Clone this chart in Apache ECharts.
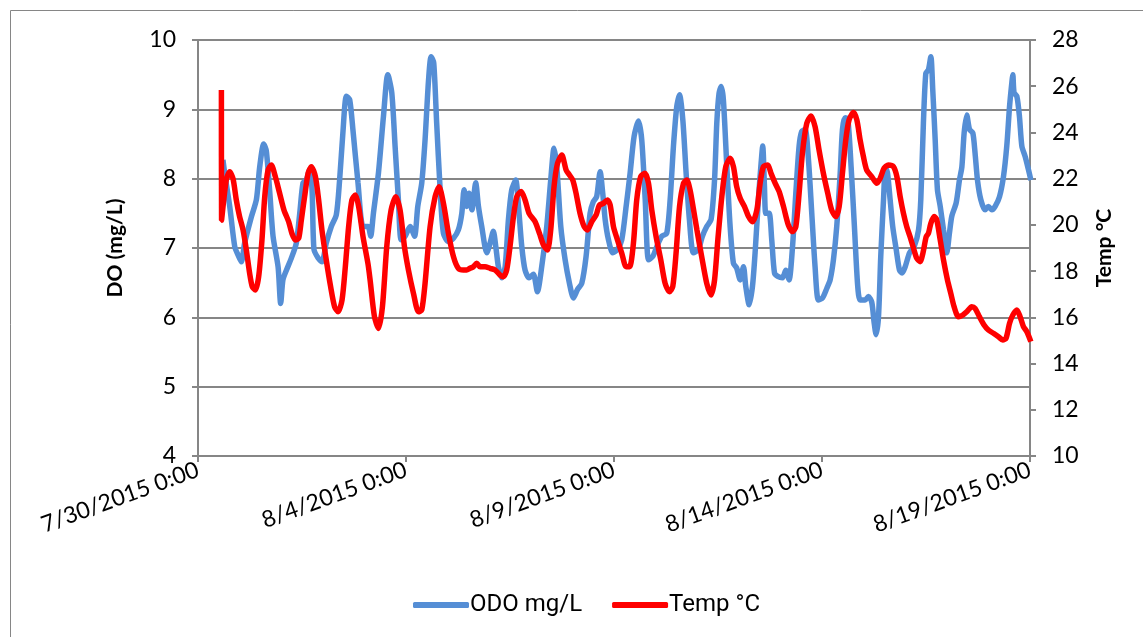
<!DOCTYPE html>
<html>
<head>
<meta charset="utf-8">
<title>DO and Temperature</title>
<script src="https://cdn.jsdelivr.net/npm/echarts@6/dist/echarts.min.js"></script>
<style>
  html, body { margin: 0; padding: 0; background: #fff; }
  #chart { width: 1143px; height: 637px; }
</style>
</head>
<body>
<div id="chart"></div>
<script>
// hours since 7/30/2015 0:00
const doHours = [14.4, 15.4, 18.3, 21.2, 23.1, 25, 26.9, 30.8, 33.7, 35.6, 37.9, 39.4, 41.3, 43.3, 46.2, 47.7, 49, 51, 53.8, 56.7, 58.7, 60.6, 62.5, 64.4, 65.8, 66.9, 69.2, 71.5, 74, 76.9, 79.8, 81.7, 83.7, 85.6, 87.5, 89.4, 92.3, 95.2, 98.1, 99.6,
  101.2, 104.1, 107, 109.5, 111.8, 113.7, 115.6, 117.2, 119.5, 122.4, 124.9, 126.8, 129.1, 131, 133, 134.5, 136, 137.7, 139.7, 141.6, 144.5, 147.4, 150.2, 152.2, 153.5, 155, 156.4, 158, 160.2, 161.8, 163.7, 166.6, 168.5, 170.4, 171.8, 173.3, 175.2, 177.2, 179.1, 181, 183.3, 184.9, 186.8, 188.7, 191, 193.5,
  195.8, 198.3, 201.2, 203.5, 205.4, 207, 209.3, 211.8, 214.3, 216.6, 218.9, 221.4, 223.9, 226.2, 228.1, 230, 232, 233.5, 234.9, 236.8, 239.3, 242, 244.5, 247, 249.3, 251.6, 254.1, 256, 258, 259.9, 262.4, 264.7, 267.6, 270.4, 272.4, 274.3, 276.2, 277.8, 279.7, 281.6, 283.5, 285.8, 288.7,
  291, 293.5, 296, 298, 299.3, 300.6, 301.8, 303.1, 305.1, 307, 308.9, 310.8, 312.8, 314.7, 316, 318, 319.9, 321.4, 323.3, 324.7, 325.8, 326.8, 327.6, 329.5, 331, 332.6, 334.5, 337.2, 339.1, 341, 343, 344.9, 346.8, 348.3, 350.3, 352.2, 354.1, 356, 357.9, 360.3, 362.8, 364.7, 366.6, 368.5, 370.5, 371.8, 373.3, 374.9, 376.8, 378.7, 380.6, 382,
  384.9, 386.8, 388.7, 390.1, 391.2, 392.6, 393.9, 395.5, 396.6, 397.8, 399.3, 400.8, 402.8, 404.7, 406.2, 408, 410.5, 413.2, 415.7, 417, 418.5, 419.9, 421.4, 422.8, 423.9, 425.3, 426.6, 428.2, 430.1, 432, 433.5, 434.9, 437.4, 439.3, 440.7, 442, 443.5, 445.1, 447, 448.3, 449.7, 451.6, 454.1, 456, 458, 459.9, 462.4, 464.7, 466.6, 468.2, 469.5, 470.1, 470.8, 472.4, 473.9, 475.3, 477.2, 479.1, 480.5];
const doValues = [8.27, 8.08, 7.6, 7.02, 6.9, 6.8, 7.07, 7.45, 7.7, 8.17, 8.5, 8.4, 7.84, 7.17, 6.73, 6.2, 6.54, 6.68, 6.85, 7.07, 7.5, 7.94, 7.98, 8.13, 7.84, 6.98, 6.86, 6.8, 7.07, 7.31, 7.48, 7.98, 8.7, 9.19, 9.14, 8.7, 7.94, 7.31, 7.31, 7.17,
  7.5, 8.08, 8.9, 9.5, 9.24, 8.47, 7.7, 7.12, 7.17, 7.31, 7.17, 7.6, 7.94, 8.56, 9.42, 9.76, 9.67, 8.8, 7.84, 7.21, 7.09, 7.14, 7.26, 7.5, 7.84, 7.6, 7.79, 7.55, 7.94, 7.6, 7.31, 6.93, 7.07, 7.24, 7.02, 6.73, 6.57, 6.73, 7.41, 7.84, 7.98, 7.6, 7.02, 6.68, 6.57, 6.62,
  6.37, 6.73, 7.31, 7.98, 8.44, 8.17, 7.31, 6.83, 6.49, 6.28, 6.4, 6.49, 6.88, 7.5, 7.67, 7.74, 8.1, 7.79, 7.41, 7.12, 6.93, 6.98, 7.12, 7.6, 8.08, 8.61, 8.83, 8.56, 7.7, 6.83, 6.88, 7.02, 7.17, 7.21, 7.7, 8.47, 9.04, 9.21, 8.85, 8.08, 7.41, 6.93, 6.98,
  7.17, 7.31, 7.41, 7.98, 8.8, 9.23, 9.33, 9.14, 8.17, 7.31, 6.78, 6.71, 6.54, 6.73, 6.45, 6.18, 6.45, 6.93, 7.7, 8.17, 8.47, 7.89, 7.5, 7.5, 7.12, 6.64, 6.59, 6.57, 6.68, 6.54, 7.02, 7.79, 8.47, 8.68, 8.71, 8.27, 7.5, 6.73, 6.25, 6.28, 6.42, 6.54, 6.83, 7.31, 8.08, 8.71, 8.88, 8.86, 8.17, 7.31, 6.45, 6.25,
  6.25, 6.3, 6.22, 5.92, 5.75, 6.01, 6.88, 7.7, 8.17, 8.08, 7.7, 7.31, 6.98, 6.68, 6.64, 6.73, 6.93, 7.02, 7.26, 7.7, 8.8, 9.52, 9.57, 9.76, 9.28, 8.56, 7.84, 7.6, 7.26, 6.93, 7.21, 7.46, 7.65, 7.98, 8.17, 8.66, 8.92, 8.71, 8.66, 8.37, 7.98, 7.7, 7.55, 7.6, 7.55, 7.6, 7.74, 8.03, 8.47, 9.04, 9.38, 9.5, 9.24, 9.19, 8.9, 8.47, 8.32, 8.13, 7.98];

const tempHours = [13.5, 13.6, 16.3, 18.3, 20.2, 22.1, 24, 26, 27.9, 29.8, 31.3, 33.1, 35, 36.9, 38.5, 40.4, 42.3, 44.6, 47.1, 49.6, 52.3, 54.2, 56.2, 58.1, 59.6, 61.5, 63.5, 65.4, 67.7, 69.6, 71.5, 74, 76.5, 78.8, 80.8, 83.1, 85, 86.9, 88.8, 90.8, 92.7, 95.2, 98.1,
  99.3, 101.8, 104.1, 106.4, 108.9, 111.4, 114.1, 116.6, 119.1, 121.4, 124.3, 127.2, 129.1, 131, 133.9, 136.8, 139.1, 141.6, 144.5, 147.4, 150.2, 153.1, 155, 156.9, 158.9, 160.8, 162.7, 165.6, 168.5, 171.4, 174.3, 176.2, 178.1, 180, 182, 183.9, 186.4, 188.7, 191,
  194.5, 197, 199.3, 201.6, 203.5, 205.4, 207.4, 209.9, 212.4, 214.3, 216.2, 218.1, 220.4, 222.8, 224.7, 227.2, 229.7, 231.6, 233.9, 236.2, 237.8, 239.7, 242, 244.5, 247, 249, 251.2, 253.1, 255.4, 257.8, 259.9, 261.8, 264.3, 267, 269.5, 272, 273.9, 275.8, 277.8, 280.1, 282, 283.9, 285.8, 287.8,
  290.6, 293.5, 296, 298, 299.9, 302.2, 304.5, 307, 308.9, 310.8, 312.8, 315.3, 317.6, 319.9, 322.4, 324.3, 326.2, 328.7, 330.6, 333, 335.3, 337.8, 340.6, 343, 344.9, 346.8, 348.7, 351.2, 353.7, 356, 358.3, 360.8, 363.3, 365.6, 368, 369.9, 371.8, 373.7, 375.6, 378.1, 380.1, 382,
  383.9, 385.8, 388.7, 391.6, 393.5, 395.8, 398.3, 401.2, 403.2, 405.1, 407, 408.9, 410.8, 412.8, 414.7, 416.6, 418.2, 420.1, 421.4, 422.8, 424.7, 426.2, 428.2, 430.1, 432.4, 434.3, 436.2, 438.7, 441.2, 443.5, 446.4, 448.3, 450.8, 453.5, 456, 458.9, 461.8, 464.3, 466.2, 468.2, 470.1, 472.4, 474.3, 476.2, 478.2, 480.5];
const tempValues = [25.84, 20.2, 21.94, 22.3, 22.0, 21.08, 20.36, 19.78, 18.91, 17.9, 17.33, 17.18, 17.76, 19.35, 21.22, 22.37, 22.59, 22.09, 21.37, 20.64, 20.14, 19.63, 19.35, 19.42, 20.2, 21.22, 22.23, 22.52, 22.1, 21.08, 19.78, 18.48, 17.33, 16.46, 16.24, 16.75, 18.19, 19.92, 21.08, 21.29, 20.79, 19.49, 18.3,
  17.61, 16.03, 15.52, 16.46, 19.06, 20.64, 21.22, 20.64, 19.06, 18.05, 17.04, 16.24, 16.32, 17.47, 19.92, 21.22, 21.65, 20.93, 19.63, 18.62, 18.12, 18.05, 18.05, 18.12, 18.19, 18.34, 18.19, 18.19, 18.12, 18.05, 17.83, 17.76, 18.05, 19.06, 20.36, 21.22, 21.44, 21.08, 20.5,
  20.14, 19.63, 19.13, 18.91, 19.78, 21.65, 22.66, 23.02, 22.37, 22.16, 21.94, 21.37, 20.5, 19.92, 19.78, 20.14, 20.43, 20.86, 20.93, 21.08, 20.86, 19.92, 19.35, 18.77, 18.19, 18.19, 19.2, 21.08, 22.09, 22.23, 21.8, 20.64, 19.49, 18.48, 17.47, 17.11, 17.33, 18.77, 20.79, 21.8, 21.94, 21.51, 20.7, 19.8,
  18.62, 17.47, 16.97, 17.61, 19.35, 21.22, 22.52, 22.88, 22.52, 21.65, 21.15, 20.79, 20.36, 20.14, 20.64, 21.8, 22.52, 22.59, 22.23, 21.8, 21.44, 20.79, 19.99, 19.71, 19.92, 21.37, 23.1, 24.39, 24.71, 24.25, 23.24, 22.23, 21.37, 20.64, 20.36, 20.79, 22.23, 23.67, 24.54, 24.86, 24.54, 23.67,
  22.95, 22.37, 22.09, 21.8, 22.0, 22.45, 22.59, 22.52, 22.09, 21.22, 20.5, 19.92, 19.49, 18.99, 18.55, 18.41, 18.77, 19.49, 19.63, 20.07, 20.36, 20.22, 19.35, 18.48, 17.61, 17.04, 16.46, 16.03, 16.1, 16.24, 16.46, 16.39, 16.03, 15.67, 15.45, 15.31, 15.16, 15.02, 15.1, 15.74, 16.1, 16.32, 16.03, 15.6, 15.38, 14.95];

const xTicks = [0, 120, 240, 360, 480];
const doTicks = [4, 5, 6, 7, 8, 9, 10];
const tempTicks = [10, 12, 14, 16, 18, 20, 22, 24, 26, 28];

const startMs = Date.UTC(2015, 6, 30);
function hourLabel(h) {
  const d = new Date(startMs + h * 3600000);
  return (d.getUTCMonth() + 1) + '/' + d.getUTCDate() + '/' + d.getUTCFullYear() + ' 0:00';
}

const chart = echarts.init(document.getElementById('chart'));
const labelFont = 'Lato, "Open Sans", sans-serif';
const axisGray = '#868686';

const option = {
  backgroundColor: '#fff',
  animation: false,
  graphic: [{
    type: 'rect',
    shape: { x: 10.5, y: 10.5, width: 1200, height: 700 },
    style: { fill: 'none', stroke: axisGray, lineWidth: 1 },
    silent: true
  }],
  grid: { left: 198, right: 113, top: 40, bottom: 181 },
  legend: {
    bottom: 15,
    left: 408,
    itemWidth: 56,
    itemHeight: 6,
    itemGap: 30,
    icon: 'roundRect',
    textStyle: { fontFamily: '"Liberation Sans Narrow", "Arial Narrow", Roboto, sans-serif', fontSize: 24, color: '#000', padding: [0, 0, 0, -4] },
    data: ['ODO mg/L', 'Temp °C']
  },
  xAxis: {
    type: 'value',
    min: xTicks[0],
    max: xTicks[xTicks.length - 1],
    interval: 120,
    axisLine: { lineStyle: { color: axisGray, width: 2 } },
    axisTick: { show: true, length: 6, lineStyle: { color: axisGray, width: 2 } },
    splitLine: { show: false },
    axisLabel: {
      rotate: 20,
      margin: 13,
      fontFamily: labelFont,
      fontSize: 23,
      color: '#000',
      formatter: hourLabel
    }
  },
  yAxis: [{
    type: 'value',
    name: 'DO (mg/L)',
    nameLocation: 'middle',
    nameRotate: 90,
    nameGap: 72,
    nameTextStyle: { fontFamily: labelFont, fontSize: 21, fontWeight: 'bold', color: '#000' },
    min: doTicks[0],
    max: doTicks[doTicks.length - 1],
    interval: 1,
    axisLine: { show: true, lineStyle: { color: axisGray, width: 2 } },
    axisTick: { show: true, length: 6, lineStyle: { color: axisGray, width: 2 } },
    splitLine: { lineStyle: { color: axisGray, width: 2 } },
    axisLabel: { fontFamily: labelFont, fontSize: 23, color: '#000', margin: 22 }
  }, {
    type: 'value',
    name: 'Temp °C',
    nameLocation: 'middle',
    nameRotate: 90,
    nameGap: 64,
    nameTextStyle: { fontFamily: labelFont, fontSize: 21, fontWeight: 'bold', color: '#000' },
    min: tempTicks[0],
    max: tempTicks[tempTicks.length - 1],
    interval: 2,
    position: 'right',
    axisLine: { show: true, lineStyle: { color: axisGray, width: 2 } },
    axisTick: { show: true, length: 6, lineStyle: { color: axisGray, width: 2 } },
    splitLine: { show: false },
    axisLabel: { fontFamily: labelFont, fontSize: 23, color: '#000', margin: 22 }
  }],
  series: [{
    name: 'ODO mg/L',
    type: 'line',
    yAxisIndex: 0,
    showSymbol: false,
    smooth: 0.25,
    clip: true,
    lineStyle: { color: '#558ed5', width: 5.5 },
    itemStyle: { color: '#558ed5' },
    data: doHours.map((h, i) => [h, doValues[i]])
  }, {
    name: 'Temp °C',
    type: 'line',
    yAxisIndex: 1,
    showSymbol: false,
    smooth: 0.25,
    clip: true,
    lineStyle: { color: '#ff0000', width: 5.5 },
    itemStyle: { color: '#ff0000' },
    data: tempHours.map((h, i) => [h, tempValues[i]])
  }]
};
chart.setOption(option);
</script>
</body>
</html>
